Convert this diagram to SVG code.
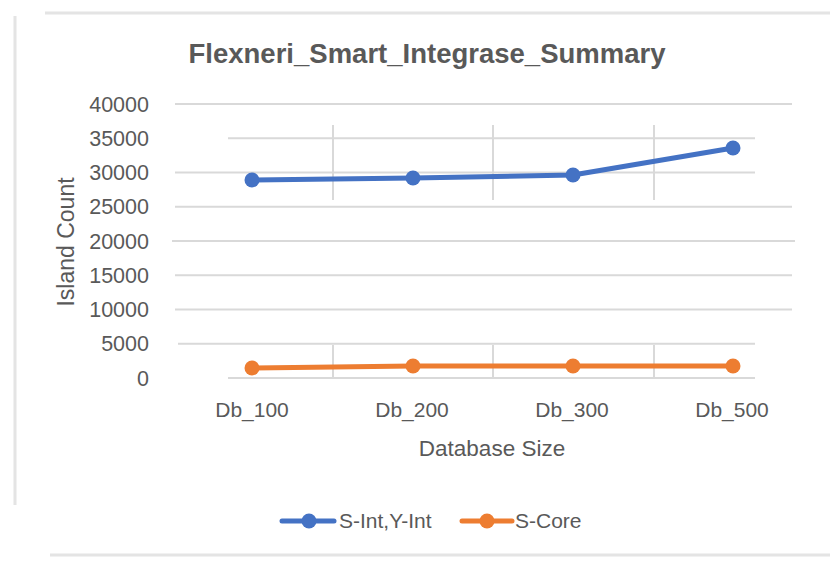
<svg xmlns="http://www.w3.org/2000/svg" width="830" height="565" viewBox="0 0 830 565">
<style>
text{font-family:"Liberation Sans",Arial,sans-serif;fill:#595959}
.tick{font-size:21.5px;text-anchor:end}
.cat{font-size:21px;text-anchor:middle}
.grid line{stroke:#d9d9d9;stroke-width:2}
.frame{stroke:#e4e4e4;stroke-width:3;fill:none}
.blue{stroke:#4472c4;stroke-width:5;fill:none;stroke-linejoin:round;stroke-linecap:round}
.orange{stroke:#ed7d31;stroke-width:5;fill:none;stroke-linejoin:round;stroke-linecap:round}
.mb{fill:#4472c4}
.mo{fill:#ed7d31}
</style>
<rect width="830" height="565" fill="#ffffff"/>
<g id="frame">
<line class="frame" x1="15" y1="16" x2="15" y2="505"/>
<line class="frame" x1="45" y1="13" x2="830" y2="13"/>
<line class="frame" x1="50" y1="555" x2="830" y2="555"/>
</g>
<g id="title"><text x="427" y="63" font-size="28" font-weight="bold" text-anchor="middle" textLength="477" lengthAdjust="spacingAndGlyphs">Flexneri_Smart_Integrase_Summary</text></g>
<g id="gridlines" class="grid">
<line x1="175" y1="104" x2="792" y2="104"/>
<line x1="228" y1="138.25" x2="755" y2="138.25"/>
<line x1="175" y1="172.5" x2="755" y2="172.5"/>
<line x1="175" y1="206.75" x2="792" y2="206.75"/>
<line x1="172" y1="241" x2="795" y2="241"/>
<line x1="175" y1="275.25" x2="792" y2="275.25"/>
<line x1="175" y1="309.5" x2="792" y2="309.5"/>
<line x1="178" y1="343.75" x2="755" y2="343.75"/>
<line x1="228" y1="378" x2="755" y2="378"/>
<line x1="333" y1="125" x2="333" y2="200"/>
<line x1="493" y1="125" x2="493" y2="200"/>
<line x1="654" y1="125" x2="654" y2="200"/>
<line x1="333" y1="345" x2="333" y2="378"/>
<line x1="493" y1="345" x2="493" y2="378"/>
<line x1="654" y1="345" x2="654" y2="378"/>
</g>
<g id="y-axis">
<text class="tick" x="149" y="111.5">40000</text>
<text class="tick" x="149" y="145.75">35000</text>
<text class="tick" x="149" y="180">30000</text>
<text class="tick" x="149" y="214.25">25000</text>
<text class="tick" x="149" y="248.5">20000</text>
<text class="tick" x="149" y="282.75">15000</text>
<text class="tick" x="149" y="317">10000</text>
<text class="tick" x="149" y="351.25">5000</text>
<text class="tick" x="149" y="385.5">0</text>
<text x="0" y="0" font-size="23" text-anchor="middle" transform="translate(74,242) rotate(-90)">Island Count</text>
</g>
<g id="x-axis">
<text class="cat" x="252" y="417">Db_100</text>
<text class="cat" x="412" y="417">Db_200</text>
<text class="cat" x="572" y="417">Db_300</text>
<text class="cat" x="732" y="417">Db_500</text>
<text x="492" y="456" font-size="22.5" text-anchor="middle">Database Size</text>
</g>
<g id="series-s-int">
<polyline class="blue" points="252,180 413,178 573,175 733,148"/>
<circle class="mb" cx="252" cy="180" r="7.5"/>
<circle class="mb" cx="413" cy="178" r="7.5"/>
<circle class="mb" cx="573" cy="175" r="7.5"/>
<circle class="mb" cx="733" cy="148" r="7.5"/>
</g>
<g id="series-s-core">
<polyline class="orange" points="252,368 413,366 573,366 733,366"/>
<circle class="mo" cx="252" cy="368" r="7.5"/>
<circle class="mo" cx="413" cy="366" r="7.5"/>
<circle class="mo" cx="573" cy="366" r="7.5"/>
<circle class="mo" cx="733" cy="366" r="7.5"/>
</g>
<g id="legend">
<line class="blue" x1="282" y1="521" x2="334" y2="521"/>
<circle class="mb" cx="309" cy="521" r="7.5"/>
<text x="339" y="528" font-size="21">S-Int,Y-Int</text>
<line class="orange" x1="462" y1="521" x2="512" y2="521"/>
<circle class="mo" cx="487" cy="521" r="7.5"/>
<text x="515" y="528" font-size="21">S-Core</text>
</g>
</svg>
